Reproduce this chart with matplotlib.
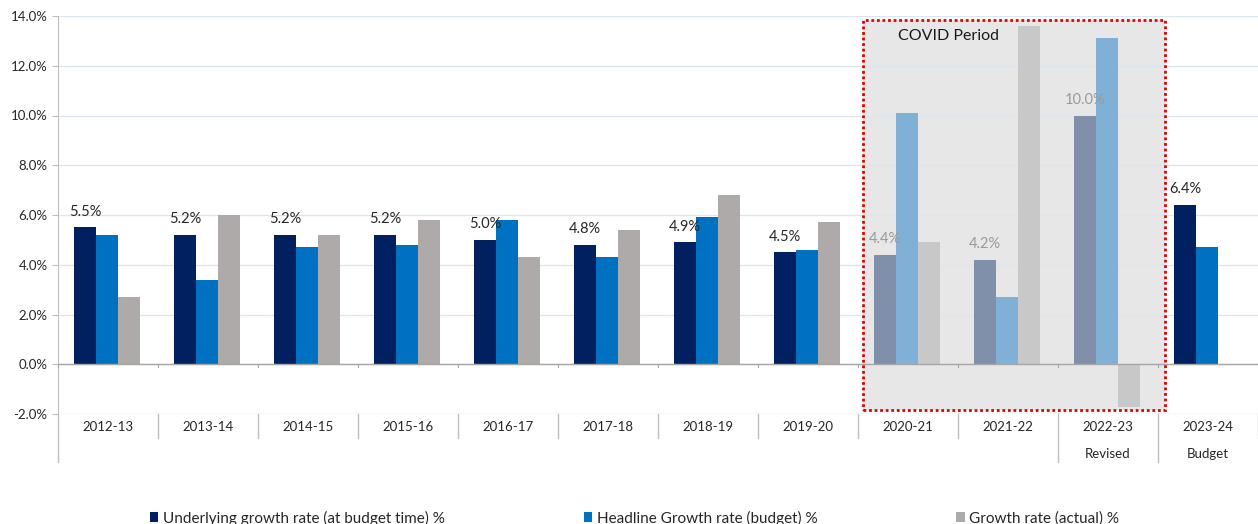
import numpy as np
import matplotlib
matplotlib.use("Agg")
import matplotlib.pyplot as plt
from matplotlib.patches import Rectangle, Patch
import matplotlib.transforms as mtransforms

plt.rcParams['font.family'] = ['Lato', 'DejaVu Sans']

years = ["2012-13", "2013-14", "2014-15", "2015-16", "2016-17", "2017-18",
         "2018-19", "2019-20", "2020-21", "2021-22", "2022-23", "2023-24"]
sublabels = ["", "", "", "", "", "", "", "", "", "", "Revised", "Budget"]
underlying = [5.5, 5.2, 5.2, 5.2, 5.0, 4.8, 4.9, 4.5, 4.4, 4.2, 10.0, 6.4]
headline = [5.2, 3.4, 4.7, 4.8, 5.8, 4.3, 5.9, 4.6, 10.1, 2.7, 13.1, 4.7]
actual = [2.7, 6.0, 5.2, 5.8, 4.3, 5.4, 6.8, 5.7, 4.9, 13.6, -1.7, np.nan]
covid = ["2020-21", "2021-22", "2022-23"]

names = ["Underlying growth rate (at budget time) %",
         "Headline Growth rate (budget) %",
         "Growth rate (actual) %"]
colors = ["#002060", "#0070C0", "#AEAAAA"]
faded = ["#808FAA", "#80B0D5", "#C9C8C9"]

fig = plt.figure(figsize=(12.58, 5.24), dpi=100)
ax = fig.add_axes([58 / 1258, 110 / 524, 1200 / 1258, 398 / 524])

x = np.arange(len(years))
w = 0.22
series = [underlying, headline, actual]
for i, vals in enumerate(series):
    cols = [faded[i] if y in covid else colors[i] for y in years]
    ax.bar(x + (i - 1) * w - 0.01, vals, w, color=cols, zorder=3)

# data labels for underlying series
for xi, v, y in zip(x, underlying, years):
    c = "#9A9A9A" if y in covid else "#262626"
    ax.text(xi - w - 0.01, v + 0.35, f"{v:.1f}%", ha="center", va="bottom",
            fontsize=10.5, color=c, zorder=5)

ax.set_xlim(-0.5, len(years) - 0.5)
ax.set_ylim(-2, 14)
ax.set_yticks(np.arange(-2, 15, 2))
ax.set_yticklabels([f"{t:.1f}%" for t in np.arange(-2, 15, 2)], fontsize=9.5, color="#262626")
ax.yaxis.grid(True, color="#DDE6F0", linewidth=1, zorder=0)
ax.set_xticks([])
ax.tick_params(axis="y", length=4, color="#BFBFBF")
for s in ["top", "right", "bottom"]:
    ax.spines[s].set_visible(False)
ax.spines["left"].set_color("#BFBFBF")
ax.axhline(0, color="#A6A6A6", linewidth=1, zorder=4)

# COVID period shading
ci = [years.index(y) for y in covid]
x0 = ci[0] - 0.45
x1 = ci[-1] + 0.57
ax.add_patch(Rectangle((x0, -1.85), x1 - x0, 15.7, facecolor="#E7E7E7",
                       edgecolor="none", zorder=1))
ax.add_patch(Rectangle((x0, -1.85), x1 - x0, 15.7, facecolor="none",
                       edgecolor="#E00000", linestyle=(0, (1, 1)), linewidth=2, zorder=6))
ax.text(x0 + 0.35, 13.2, "COVID Period", fontsize=11.5, color="#1A1A1A", va="center", zorder=6)

# category axis
trans = mtransforms.blended_transform_factory(ax.transData, fig.transFigure)
for xi, y, sub in zip(x, years, sublabels):
    fig.text(xi, 1 - 427 / 524, y, transform=trans, ha="center", va="center",
             fontsize=9.5, color="#262626")
    if sub:
        fig.text(xi, 1 - 454 / 524, sub, transform=trans, ha="center", va="center",
                 fontsize=9.5, color="#262626")
for b in range(len(years) + 1):
    xb = b - 0.5
    bottom = 462 if b in (0, 10, 11) else 438
    ax.plot([xb, xb], [1 - 414 / 524, 1 - bottom / 524], transform=trans,
            color="#BFBFBF", linewidth=1, clip_on=False)
    ax.plot([xb, xb], [0, -0.12], color="#A6A6A6", linewidth=0.8, clip_on=False, zorder=4)

handles = [Patch(facecolor=c) for c in colors]
fig.legend(handles, names, loc="center left", bbox_to_anchor=(136 / 1258, 1 - 518 / 524),
           ncol=3, frameon=False, fontsize=11, handlelength=0.55, handleheight=0.6,
           handletextpad=0.3, columnspacing=9.1, labelcolor="#262626")

fig.savefig("out.png", dpi=100)
